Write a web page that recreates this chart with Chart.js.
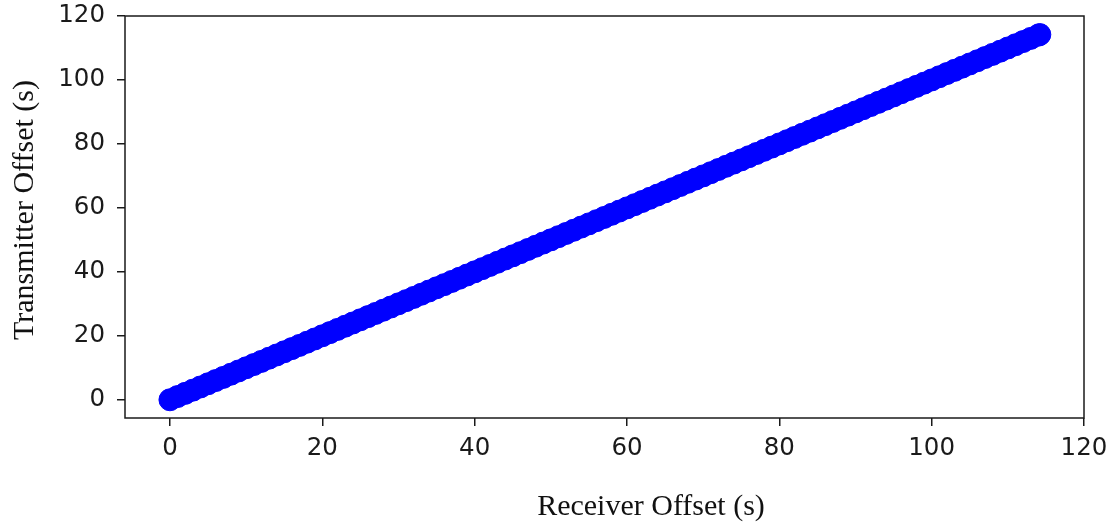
<!DOCTYPE html>
<html>
<head>
<meta charset="utf-8">
<script src="https://cdn.jsdelivr.net/npm/chart.js@4/dist/chart.umd.min.js"></script>
<style>
  html, body { margin: 0; padding: 0; background: #fff; }
  canvas { display: block; }
</style>
</head>
<body>
<canvas id="chart" width="1112" height="522"></canvas>
<script>
// receiver vs transmitter offset (dense, ~1 s apart)
const receiverOffset = [
  0, 1, 2, 3, 4, 5, 6, 7, 8, 9, 10, 11, 12, 13, 14, 15, 16, 17, 18, 19,
  20, 21, 22, 23, 24, 25, 26, 27, 28, 29, 30, 31, 32, 33, 34, 35, 36, 37, 38, 39,
  40, 41, 42, 43, 44, 45, 46, 47, 48, 49, 50, 51, 52, 53, 54, 55, 56, 57, 58, 59,
  60, 61, 62, 63, 64, 65, 66, 67, 68, 69, 70, 71, 72, 73, 74, 75, 76, 77, 78, 79,
  80, 81, 82, 83, 84, 85, 86, 87, 88, 89, 90, 91, 92, 93, 94, 95, 96, 97, 98, 99,
  100, 101, 102, 103, 104, 105, 106, 107, 108, 109, 110, 111, 112, 113, 114, 114.2
];
const transmitterOffset = [
  0, 1, 2, 3, 4, 5, 6, 7, 8, 9, 10, 11, 12, 13, 14, 15, 16, 17, 18, 19,
  20, 21, 22, 23, 24, 25, 26, 27, 28, 29, 30, 31, 32, 33, 34, 35, 36, 37, 38, 39,
  40, 41, 42, 43, 44, 45, 46, 47, 48, 49, 50, 51, 52, 53, 54, 55, 56, 57, 58, 59,
  60, 61, 62, 63, 64, 65, 66, 67, 68, 69, 70, 71, 72, 73, 74, 75, 76, 77, 78, 79,
  80, 81, 82, 83, 84, 85, 86, 87, 88, 89, 90, 91, 92, 93, 94, 95, 96, 97, 98, 99,
  100, 101, 102, 103, 104, 105, 106, 107, 108, 109, 110, 111, 112, 113, 114, 114.2
];
const xTicks = [0, 20, 40, 60, 80, 100, 120];
const yTicks = [0, 20, 40, 60, 80, 100, 120];

const xTitle = 'Receiver Offset (s)';
const yTitle = 'Transmitter Offset (s)';

const axisColor = '#1a1a1a';
const tickFont = { family: 'DejaVu Sans', size: 24.5 };

// box round the plot area plus the two serif axis titles
const frame = {
  id: 'frame',
  afterDraw(chart) {
    const { ctx, chartArea: a } = chart;
    ctx.save();
    ctx.strokeStyle = axisColor;
    ctx.lineWidth = 1.5;
    ctx.strokeRect(a.left, a.top, a.right - a.left, a.bottom - a.top);

    ctx.fillStyle = '#111';
    ctx.font = '30px "Liberation Serif"';
    ctx.textAlign = 'center';
    ctx.textBaseline = 'alphabetic';
    ctx.fillText(xTitle, 651, 515);

    ctx.translate(33, 210);
    ctx.rotate(-Math.PI / 2);
    ctx.fillText(yTitle, 0, 0);
    ctx.restore();
  }
};

const points = receiverOffset.map((x, i) => ({ x, y: transmitterOffset[i] }));

new Chart(document.getElementById('chart'), {
  type: 'scatter',
  data: {
    datasets: [{
      data: points,
      backgroundColor: '#0000ff',
      borderColor: '#0000ff',
      borderWidth: 1,
      pointRadius: 11,
      pointHoverRadius: 11
    }]
  },
  options: {
    responsive: false,
    animation: false,
    events: [],
    layout: { padding: { top: 16, right: 28, left: 0, bottom: 0 } },
    plugins: { legend: { display: false }, tooltip: { enabled: false } },
    scales: {
      x: {
        type: 'linear',
        min: -5.9,
        max: 120,
        afterFit(s) { s.height = 104; s.paddingLeft = 0; s.paddingRight = 0; },
        afterBuildTicks(s) { s.ticks = xTicks.map(v => ({ value: v })); },
        border: { display: false },
        grid: { drawOnChartArea: false, drawTicks: true, tickLength: 8, color: axisColor, lineWidth: 1.5 },
        ticks: { color: axisColor, font: tickFont, padding: 8, maxRotation: 0 }
      },
      y: {
        type: 'linear',
        min: -5.7,
        max: 120,
        afterFit(s) { s.width = 125; s.paddingTop = 0; s.paddingBottom = 0; },
        afterBuildTicks(s) { s.ticks = yTicks.map(v => ({ value: v })); },
        border: { display: false },
        grid: { drawOnChartArea: false, drawTicks: true, tickLength: 8, color: axisColor, lineWidth: 1.5 },
        ticks: { color: axisColor, font: tickFont, padding: 12 }
      }
    }
  },
  plugins: [frame]
});
</script>
</body>
</html>
